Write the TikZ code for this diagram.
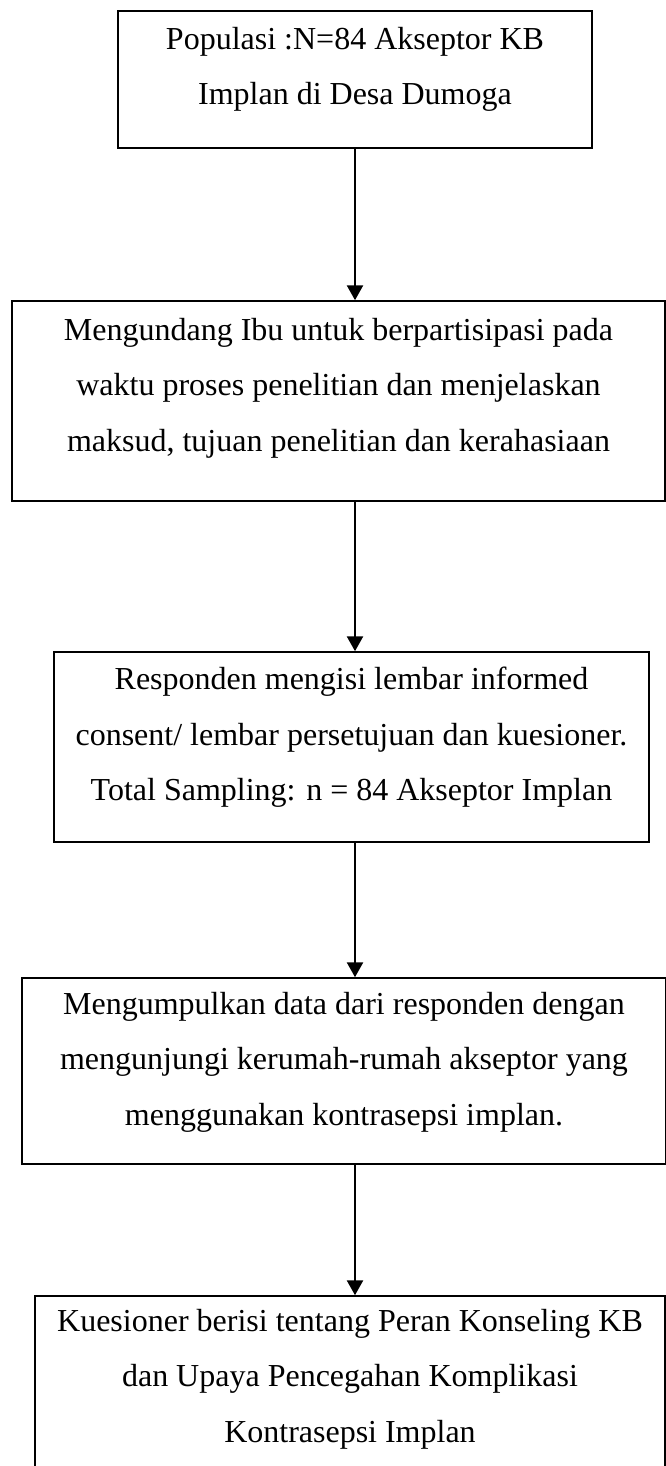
\documentclass[tikz,border=0pt]{standalone}
\usepackage{fontspec}
\setmainfont{Liberation Serif}
\usetikzlibrary{arrows.meta}

\tikzset{
  kotak/.style={draw=black, line width=1.5pt, rectangle, align=center, inner sep=0pt, font=\fontsize{32pt}{55.5pt}\selectfont},
  alur/.style={line width=2.6pt, -{Triangle[length=15pt,width=16pt]}}
}

\begin{document}
\begin{tikzpicture}[x=1pt,y=-1pt]
        \clip (0,0) rectangle (666,1466); % area del foglio
        \node[kotak, minimum width=474pt, minimum height=137pt, text depth=27pt] (populasi) at (355,79.5) {Populasi :N=84 Akseptor KB\\Implan di Desa Dumoga}; % riquadro della popolazione
        \node[kotak, minimum width=653pt, minimum height=200pt, text depth=33pt] (undangan) at (338.5,401) {Mengundang Ibu untuk berpartisipasi pada\\waktu proses penelitian dan menjelaskan\\maksud, tujuan penelitian dan kerahasiaan}; % riquadro dell'invito
        \node[kotak, minimum width=595pt, minimum height=190pt, text depth=26pt] (responden) at (351.5,747) {Responden mengisi lembar informed\\consent/ lembar persetujuan dan kuesioner.\\Total Sampling: n = 84 Akseptor Implan}; % riquadro del consenso
        \node[kotak, minimum width=644pt, minimum height=186pt, text depth=25pt] (kumpul) at (344,1071) {Mengumpulkan data dari responden dengan\\mengunjungi kerumah-rumah akseptor yang\\menggunakan kontrasepsi implan.}; % riquadro della raccolta dati
        \node[kotak, minimum width=630pt, minimum height=204pt, text depth=45pt] (kuesioner) at (350,1398) {Kuesioner berisi tentang Peran Konseling KB\\dan Upaya Pencegahan Komplikasi\\Kontrasepsi Implan}; % riquadro del questionario
        \draw[alur] (populasi.south) -- (populasi.south |- undangan.north); % freccia 1
        \draw[alur] (populasi.south |- undangan.south) -- (populasi.south |- responden.north); % freccia 2
        \draw[alur] (populasi.south |- responden.south) -- (populasi.south |- kumpul.north); % freccia 3
        \draw[alur] (populasi.south |- kumpul.south) -- (populasi.south |- kuesioner.north); % freccia 4
    \end{tikzpicture}
\end{document}
